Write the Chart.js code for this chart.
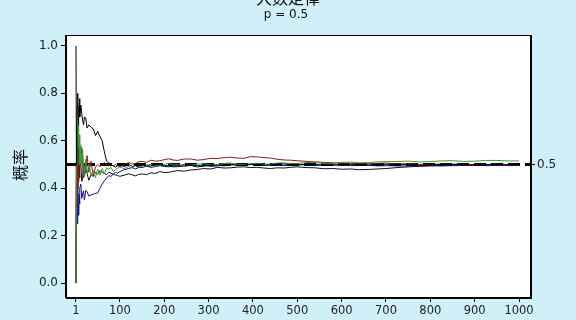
<!DOCTYPE html>
<html>
<head>
<meta charset="utf-8">
<script src="https://cdn.jsdelivr.net/npm/chart.js@4.4.1/dist/chart.umd.min.js"></script>
<style>
  html, body { margin: 0; padding: 0; background: #cfeff9; }
  #wrap { width: 576px; height: 320px; position: relative; }
</style>
</head>
<body>
<div id="wrap"><canvas id="lawChart"></canvas></div>
<script>
const steps = [1,2,3,4,5,6,7,8,9,10,12,14,16,18,20,23,26,30,35,40,45,50,55,60,65,70,75,80,85,90,95,
    100,110,120,128,135,142,150,160,170,180,190,200,210,220,230,245,260,275,290,305,320,335,350,365,380,395,410,425,440,455,
    470,485,500,520,540,560,580,600,620,640,660,680,700,725,750,775,800,825,850,875,900,925,950,975,1000];

const blackHigh = [1.0,0.5,0.667,0.75,0.8,0.667,0.714,0.75,0.778,0.7,0.75,0.714,0.688,0.667,0.7,0.696,0.654,0.667,0.657,0.65,0.622,0.64,0.618,0.6,0.554,0.514,0.507,0.5,0.494,0.489,0.495,
    0.5,0.491,0.5,0.492,0.496,0.489,0.5,0.494,0.494,0.5,0.5,0.495,0.495,0.49,0.491,0.494,0.496,0.49,0.493,0.497,0.497,0.494,0.5,0.496,0.497,0.501,0.5,0.496,0.498,0.5,
    0.502,0.499,0.498,0.5,0.5,0.497,0.497,0.5,0.5,0.498,0.498,0.5,0.501,0.499,0.5,0.497,0.498,0.5,0.5,0.498,0.497,0.5,0.5,0.498,0.499];
const blackLow = [0,0.5,0.333,0.5,0.4,0.5,0.571,0.5,0.444,0.5,0.5,0.429,0.438,0.5,0.45,0.478,0.462,0.433,0.457,0.45,0.467,0.46,0.473,0.467,0.462,0.457,0.467,0.463,0.459,0.456,0.453,
    0.45,0.455,0.461,0.456,0.452,0.458,0.46,0.457,0.465,0.462,0.47,0.466,0.467,0.471,0.474,0.472,0.477,0.479,0.483,0.481,0.488,0.485,0.486,0.489,0.49,0.487,0.488,0.485,0.483,0.486,
    0.485,0.488,0.49,0.487,0.486,0.482,0.483,0.48,0.481,0.478,0.479,0.481,0.483,0.487,0.49,0.492,0.494,0.495,0.497,0.499,0.5,0.497,0.498,0.5,0.5];
const green = [0,0.5,0.667,0.5,0.6,0.667,0.571,0.625,0.556,0.5,0.583,0.5,0.563,0.5,0.45,0.522,0.462,0.5,0.457,0.475,0.444,0.48,0.455,0.483,0.462,0.486,0.48,0.488,0.471,0.478,0.484,
    0.49,0.482,0.492,0.484,0.496,0.487,0.493,0.498,0.5,0.494,0.495,0.5,0.505,0.498,0.5,0.493,0.496,0.501,0.503,0.498,0.5,0.504,0.506,0.501,0.5,0.503,0.505,0.501,0.502,0.506,
    0.507,0.503,0.504,0.508,0.508,0.505,0.505,0.509,0.51,0.507,0.508,0.511,0.512,0.513,0.514,0.511,0.512,0.515,0.516,0.513,0.514,0.517,0.517,0.515,0.515];
const red = [0,0.5,0.333,0.5,0.6,0.5,0.429,0.5,0.556,0.5,0.5,0.571,0.5,0.444,0.5,0.478,0.538,0.467,0.514,0.45,0.489,0.5,0.491,0.5,0.508,0.5,0.493,0.5,0.494,0.5,0.495,
    0.49,0.5,0.508,0.502,0.504,0.511,0.513,0.509,0.518,0.514,0.516,0.52,0.524,0.519,0.517,0.523,0.523,0.518,0.521,0.526,0.525,0.529,0.531,0.527,0.526,0.533,0.532,0.529,0.527,0.522,
    0.519,0.518,0.516,0.513,0.511,0.509,0.507,0.506,0.505,0.502,0.503,0.505,0.506,0.502,0.503,0.501,0.5,0.502,0.502,0.499,0.498,0.5,0.5,0.498,0.498];
const blue = [0,0.5,0.333,0.25,0.4,0.333,0.286,0.375,0.333,0.4,0.417,0.357,0.375,0.389,0.35,0.391,0.385,0.367,0.371,0.375,0.378,0.38,0.4,0.417,0.431,0.443,0.453,0.45,0.459,0.467,0.463,
    0.47,0.478,0.483,0.488,0.481,0.487,0.487,0.493,0.488,0.491,0.495,0.492,0.49,0.494,0.496,0.499,0.5,0.495,0.497,0.492,0.494,0.497,0.499,0.501,0.497,0.5,0.5,0.497,0.498,0.496,
    0.495,0.498,0.5,0.499,0.496,0.498,0.499,0.497,0.495,0.496,0.497,0.494,0.495,0.494,0.493,0.495,0.496,0.494,0.495,0.496,0.497,0.495,0.496,0.497,0.498];

const xTicks = [1,100,200,300,400,500,600,700,800,900,1000];
const yTicks = [0.0,0.2,0.4,0.6,0.8,1.0];
const pValue = 0.5;

const xMin = -21.5, xMax = 1027;
const yMin = -0.063, yMax = 1.046;

function pts(vals) { return steps.map((n, i) => ({ x: n, y: vals[i] })); }

const line = (label, vals, color) => ({
    label, data: pts(vals), borderColor: color, borderWidth: 1,
    pointRadius: 0, tension: 0, fill: false
});

const frame = {
    id: 'frame',
    beforeDraw(chart) {
        const { ctx, chartArea: a } = chart;
        ctx.save();
        ctx.fillStyle = '#cfeff9';
        ctx.fillRect(0, 0, chart.width, chart.height);
        ctx.fillStyle = '#ffffff';
        ctx.fillRect(a.left, a.top, a.right - a.left, a.bottom - a.top);
        ctx.restore();
    },
    afterDraw(chart) {
        const { ctx, chartArea: a } = chart;
        ctx.save();
        ctx.strokeStyle = '#000';
        ctx.lineWidth = 1;
        ctx.strokeRect(Math.round(a.left) - 0.5, Math.round(a.top) + 0.5, Math.round(a.right - a.left), Math.round(a.bottom - a.top) - 1);
        ctx.fillStyle = '#111';
        ctx.textAlign = 'center';
        ctx.textBaseline = 'middle';
        ctx.font = '16px "Noto Sans CJK SC"';
        ctx.fillText('大数定律', 288, -2);
        ctx.font = '12px "DejaVu Sans"';
        ctx.fillText('p = 0.5', 286, 15);
        ctx.translate(20, 165);
        ctx.rotate(-Math.PI / 2);
        ctx.font = '16px "Noto Sans CJK SC"';
        ctx.fillText('概率', 0, 0);
        ctx.restore();
    }
};

Chart.defaults.font.family = '"DejaVu Sans", sans-serif';
Chart.defaults.color = '#222';

new Chart(document.getElementById('lawChart'), {
    type: 'line',
    data: {
        datasets: [
            line('1', blackHigh, '#000000'),
            line('2', green, '#3a9a3a'),
            line('3', red, '#8b1a1a'),
            line('4', blue, '#10108a'),
            line('5', blackLow, '#111111'),
            {
                label: 'p', data: [{ x: xMin, y: pValue }, { x: xMax, y: pValue }],
                borderColor: '#000', borderWidth: 3, borderDash: [12, 5],
                pointRadius: 0, tension: 0
            }
        ]
    },
    options: {
        responsive: true,
        maintainAspectRatio: false,
        animation: false,
        layout: { padding: { top: 35, left: 0, right: 0, bottom: 0 } },
        plugins: { legend: { display: false }, tooltip: { enabled: false }, title: { display: false } },
        scales: {
            x: {
                type: 'linear', min: xMin, max: xMax,
                afterBuildTicks: s => { s.ticks = xTicks.map(v => ({ value: v })); },
                afterFit: s => { s.height = 22; },
                grid: { drawOnChartArea: false, color: '#000', tickLength: 4 },
                border: { color: '#000' },
                ticks: { autoSkip: false, maxRotation: 0, padding: 2, font: { size: 11.5 }, callback: v => String(v) }
            },
            y: {
                type: 'linear', min: yMin, max: yMax,
                afterBuildTicks: s => { s.ticks = yTicks.map(v => ({ value: v })); },
                afterFit: s => { s.width = 66; },
                grid: { drawOnChartArea: false, color: '#000', tickLength: 5 },
                border: { color: '#000' },
                ticks: { padding: 3, font: { size: 12 }, callback: v => v.toFixed(1) }
            },
            y2: {
                type: 'linear', position: 'right', min: yMin, max: yMax,
                afterBuildTicks: s => { s.ticks = [{ value: pValue }]; },
                afterFit: s => { s.width = 45; },
                grid: { drawOnChartArea: false, color: '#000', tickLength: 4 },
                border: { color: '#000' },
                ticks: { padding: 2, font: { size: 12 }, callback: v => String(v) }
            }
        }
    },
    plugins: [frame]
});
</script>
</body>
</html>
